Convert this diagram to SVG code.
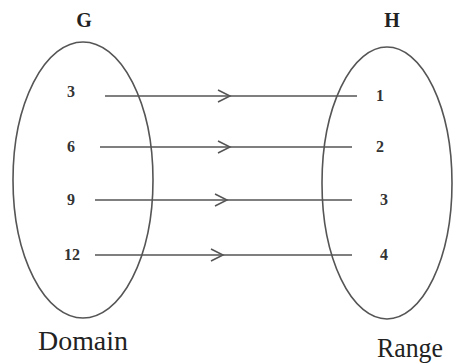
<svg xmlns="http://www.w3.org/2000/svg" width="453" height="364" viewBox="0 0 453 364">
<style>
.set{fill:none;stroke:#555;stroke-width:1.6}
.ln{stroke:#555;stroke-width:1.6;fill:none}
.hd{fill:none;stroke:#555;stroke-width:1.5}
.num{font-weight:bold;font-size:16px;fill:#333}
.ttl{font-weight:bold;font-size:20px;fill:#222;text-anchor:middle}
.cap{font-size:27px;fill:#222}
</style>
<rect width="453" height="364" fill="#fff"/>
<g font-family="Liberation Serif, Times New Roman, DejaVu Serif, serif">
<g id="G">
<ellipse class="set" cx="83" cy="180" rx="70" ry="138"/>
<text class="ttl" x="84" y="27">G</text>
<text class="num" x="67" y="97">3</text>
<text class="num" x="67" y="152">6</text>
<text class="num" x="67" y="205">9</text>
<text class="num" x="64" y="260">12</text>
<text class="cap" x="38" y="350" textLength="90" lengthAdjust="spacingAndGlyphs">Domain</text>
</g>
<g id="H">
<ellipse class="set" cx="387" cy="183" rx="65" ry="136"/>
<text class="ttl" x="392" y="27">H</text>
<text class="num" x="376" y="101">1</text>
<text class="num" x="376" y="152">2</text>
<text class="num" x="380" y="205">3</text>
<text class="num" x="380" y="260">4</text>
<text class="cap" x="377" y="357" textLength="66" lengthAdjust="spacingAndGlyphs">Range</text>
</g>
</g>
<g id="connectors">
<line class="ln" x1="105" y1="96" x2="357" y2="96"/>
<polyline class="hd" points="218,90 230,96 218,102"/>
<line class="ln" x1="100" y1="147" x2="352" y2="147"/>
<polyline class="hd" points="218,141 230,147 218,153"/>
<line class="ln" x1="95" y1="200" x2="352" y2="200"/>
<polyline class="hd" points="215,194 227,200 215,206"/>
<line class="ln" x1="95" y1="255" x2="352" y2="255"/>
<polyline class="hd" points="211,249 223,255 211,261"/>
</g>
</svg>
